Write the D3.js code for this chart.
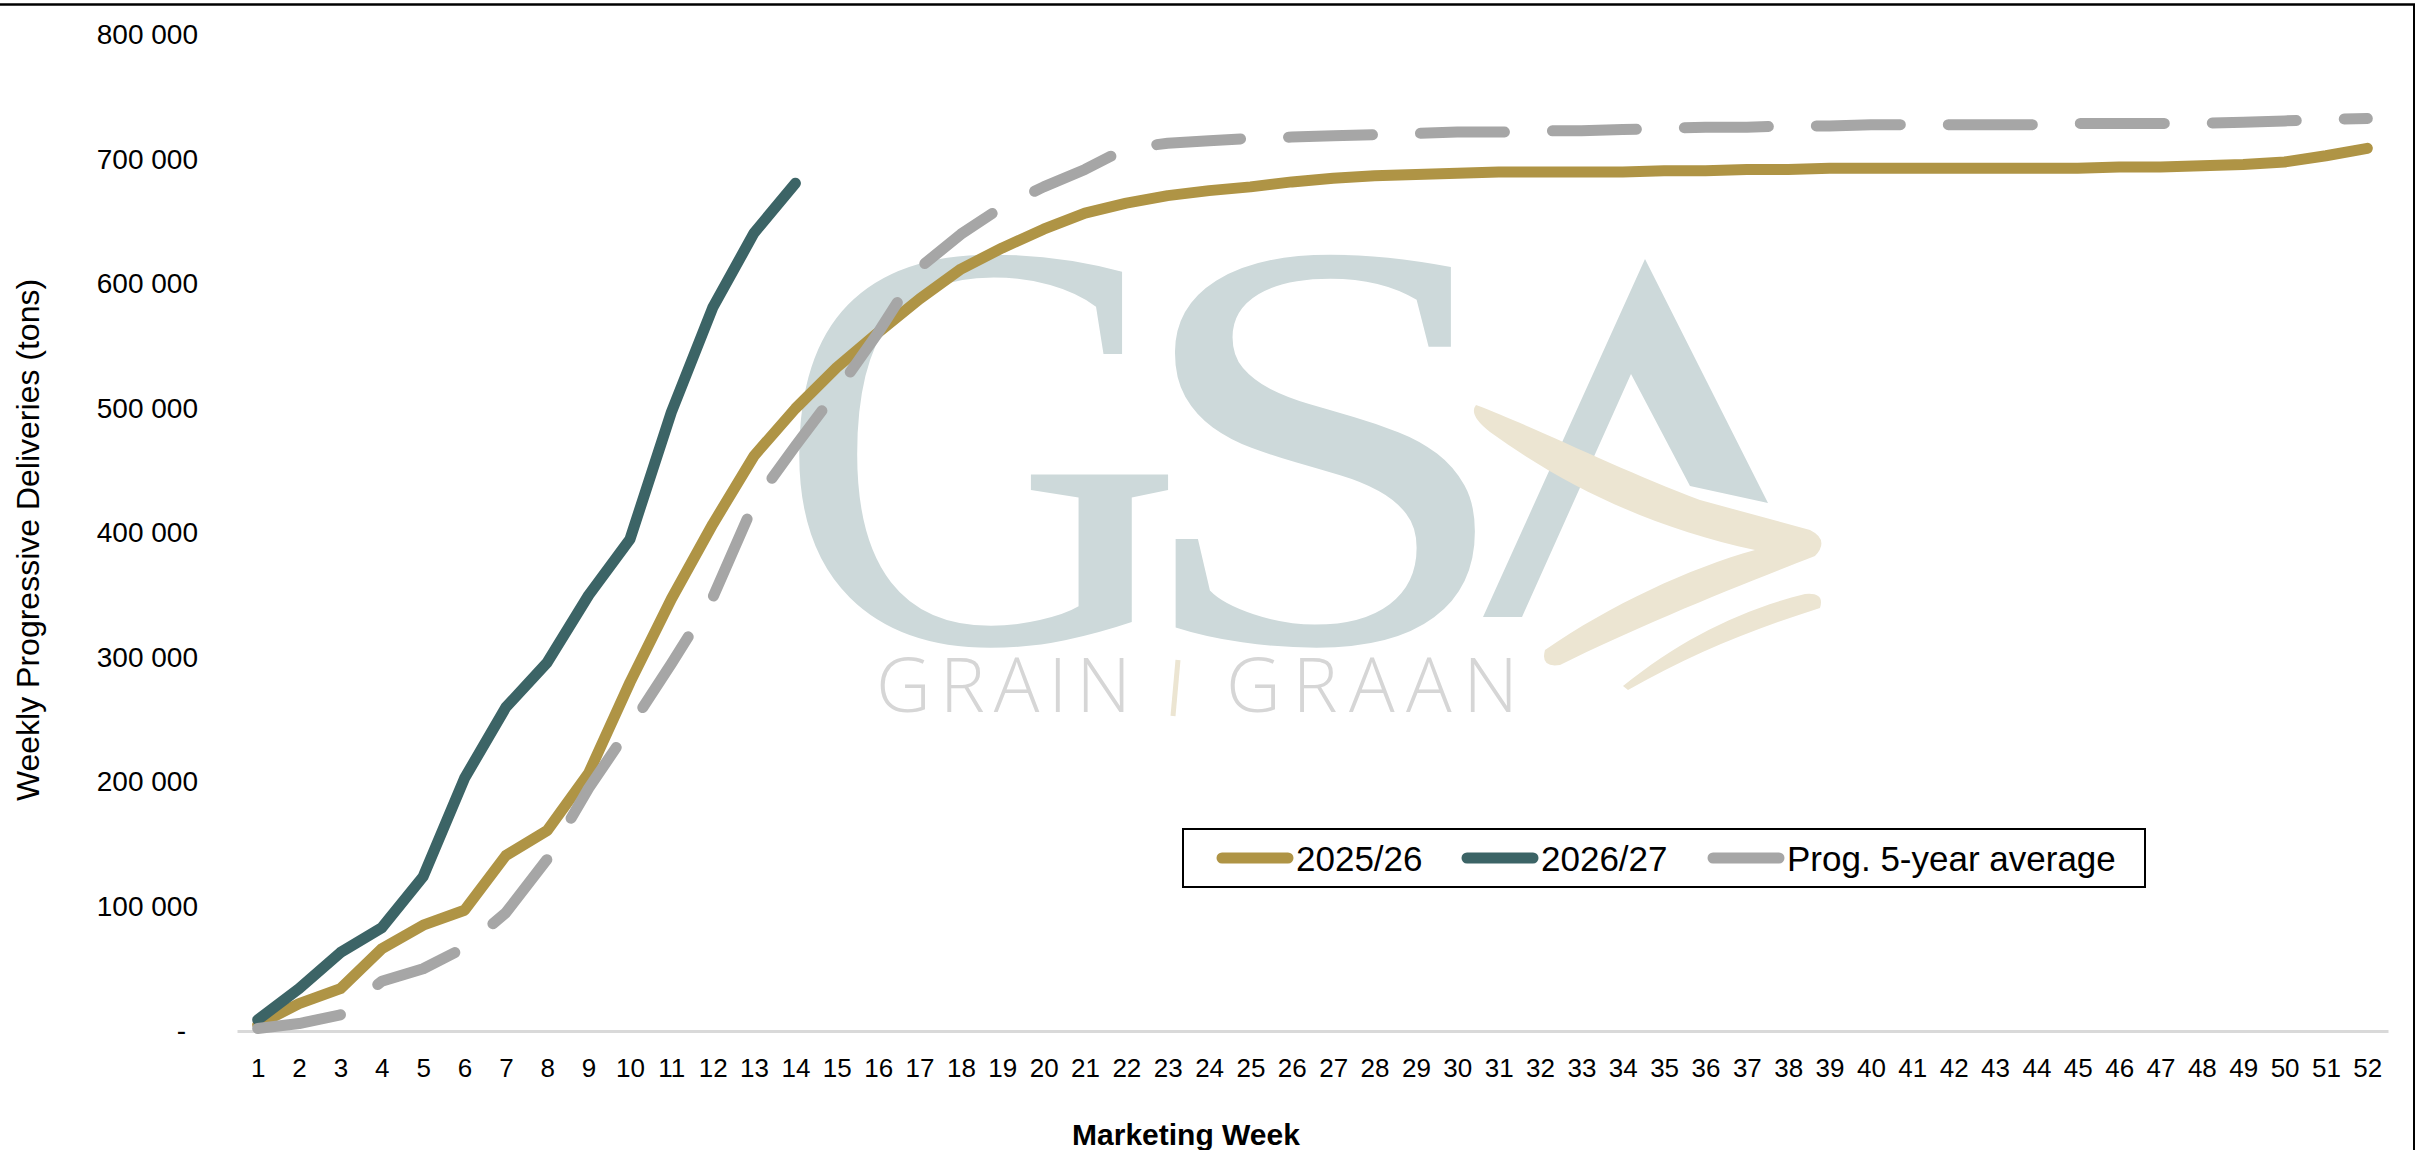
<!DOCTYPE html>
<html>
<head>
<meta charset="utf-8">
<script src="https://cdn.jsdelivr.net/npm/d3@7"></script>
<style>
  html, body { margin: 0; padding: 0; background: #ffffff; }
  svg { display: block; }
</style>
</head>
<body>
<svg id="chart" width="2418" height="1150"></svg>
<script>
// ---------------- DATA ----------------
const weeks = [1,2,3,4,5,6,7,8,9,10,11,12,13,14,15,16,17,18,19,20,21,22,23,24,25,26,
               27,28,29,30,31,32,33,34,35,36,37,38,39,40,41,42,43,44,45,46,47,48,49,50,51,52];

const series2025 = [5000,22000,34000,66000,85000,97000,141000,161000,207000,280000,347000,407000,
                    462000,500000,533000,561000,588000,612000,629000,644000,657000,665000,671000,675000,
                    678000,682000,685000,687000,688000,689000,690000,690000,690000,690000,691000,691000,
                    692000,692000,693000,693000,693000,693000,693000,693000,693000,694000,694000,695000,
                    696000,698000,703000,709000];

const series2026 = [9000,34000,63000,83000,124000,203000,260000,296000,350000,395000,497000,581000,
                    641000,681000];

const avg5yr = [2000,6000,13000,40000,50000,67000,95000,138000,195000,244000,295000,348000,
                424000,470000,514000,561000,613000,640000,662000,678000,692000,709000,713000,715000,
                717000,718000,719000,720000,721000,722000,722000,723000,723000,724000,725000,726000,
                726000,727000,727000,728000,728000,728000,728000,728000,729000,729000,729000,729000,
                730000,731000,732000,733000];

const yTicks = [0,100000,200000,300000,400000,500000,600000,700000,800000];
const seriesNames = ["2025/26", "2026/27", "Prog. 5-year average"];
const yTitle = "Weekly Progressive Deliveries (tons)";
const xTitle = "Marketing Week";

// ---------------- SETUP ----------------
const svg = d3.select("#chart");
const FONT = "'Liberation Sans', Arial, sans-serif";
const colors = { "2025/26": "#af9445", "2026/27": "#3c6466", "Prog. 5-year average": "#a6a6a6" };

const x = d3.scalePoint().domain(weeks).range([237, 2388]).padding(0.5);
const y = d3.scaleLinear().domain([0, 800000]).range([1031, 35]);

// frame (top and right borders of the original chart area)
svg.append("line").attr("x1", 0).attr("x2", 2415).attr("y1", 4.5).attr("y2", 4.5)
   .attr("stroke", "#000").attr("stroke-width", 2.5);
svg.append("line").attr("x1", 2414).attr("x2", 2414).attr("y1", 4).attr("y2", 1150)
   .attr("stroke", "#000").attr("stroke-width", 2);

// ---------------- WATERMARK ----------------
const wm = svg.append("g").attr("class", "watermark");
const serif = "'Liberation Serif', 'Times New Roman', serif";
wm.append("text")
  .attr("transform", "translate(776,642) scale(0.97,1)")
  .attr("font-family", serif).attr("font-size", 585)
  .attr("fill", "#cdd9da")
  .text("G");
wm.append("text")
  .attr("transform", "translate(1128,642) scale(1.2,1)")
  .attr("font-family", serif).attr("font-size", 585)
  .attr("fill", "#cdd9da")
  .text("S");
wm.append("path")
  .attr("d", "M1645,259 L1768,503 L1690,486 L1631,374 L1522,617 L1483,617 Z")
  .attr("fill", "#cdd9da");
wm.append("path")
  .attr("d", "M1476,405 C1530,425 1620,470 1700,500 L1810,530 Q1830,540 1815,556 C1740,585 1640,625 1560,665 Q1540,668 1545,650 C1610,605 1690,568 1755,550 C1660,530 1570,490 1490,432 Q1468,415 1476,405 Z")
  .attr("fill", "#ece5d2");
wm.append("path")
  .attr("d", "M1623,686 C1680,640 1740,610 1805,594 Q1825,592 1820,608 C1750,630 1690,655 1628,690 Z")
  .attr("fill", "#ece5d2");
wm.append("text")
  .attr("x", 876).attr("y", 712)
  .attr("font-family", "'Open Sans', 'Liberation Sans', sans-serif")
  .attr("font-weight", 300)
  .attr("font-size", 76)
  .attr("textLength", 255).attr("lengthAdjust", "spacing")
  .attr("fill", "#d6d6d6")
  .text("GRAIN");
wm.append("line").attr("x1", 1178).attr("y1", 660).attr("x2", 1173).attr("y2", 716)
  .attr("stroke", "#ece5d2").attr("stroke-width", 5);
wm.append("text")
  .attr("x", 1226).attr("y", 712)
  .attr("font-family", "'Open Sans', 'Liberation Sans', sans-serif")
  .attr("font-weight", 300)
  .attr("font-size", 76)
  .attr("textLength", 292).attr("lengthAdjust", "spacing")
  .attr("fill", "#d6d6d6")
  .text("GRAAN");

// ---------------- AXES ----------------
const fmt = v => v === 0 ? "-" : d3.format(",")(v).replace(/,/g, " ");

const yAxis = svg.append("g")
  .attr("transform", "translate(198,0)")
  .call(d3.axisLeft(y).tickValues(yTicks).tickSize(0).tickPadding(0).tickFormat(fmt));
yAxis.select(".domain").remove();
yAxis.selectAll("text")
  .attr("font-family", FONT).attr("font-size", 28).attr("fill", "#000")
  .attr("dx", d => d === 0 ? -12 : 0);

const xAxis = svg.append("g")
  .attr("transform", "translate(0,1031)")
  .call(d3.axisBottom(x).tickSize(0).tickSizeOuter(0).tickPadding(28));
xAxis.select(".domain").attr("stroke", "#d9d9d9").attr("stroke-width", 3);
xAxis.selectAll("text")
  .attr("font-family", FONT).attr("font-size", 26).attr("fill", "#000");

svg.append("text")
  .attr("transform", "translate(39,540) rotate(-90)")
  .attr("text-anchor", "middle")
  .attr("font-family", FONT).attr("font-size", 32).attr("fill", "#000")
  .text(yTitle);

svg.append("text")
  .attr("x", 1186).attr("y", 1145)
  .attr("text-anchor", "middle")
  .attr("font-family", FONT).attr("font-weight", "bold").attr("font-size", 30).attr("fill", "#000")
  .text(xTitle);

// ---------------- LINES ----------------
const line = d3.line().x(d => x(d.w)).y(d => y(d.v));
const seriesData = [
  { name: seriesNames[0], values: series2025.map((v, i) => ({ w: weeks[i], v })), dash: null },
  { name: seriesNames[1], values: series2026.map((v, i) => ({ w: weeks[i], v })), dash: null },
  { name: seriesNames[2], values: avg5yr.map((v, i) => ({ w: weeks[i], v })), dash: "84 48" }
];

svg.append("g").selectAll("path")
  .data(seriesData)
  .join("path")
  .attr("d", d => line(d.values))
  .attr("fill", "none")
  .attr("stroke", d => colors[d.name])
  .attr("stroke-width", 11)
  .attr("stroke-linecap", "round")
  .attr("stroke-linejoin", "round")
  .attr("stroke-dasharray", d => d.dash);

// ---------------- LEGEND ----------------
const legend = svg.append("g");
legend.append("rect")
  .attr("x", 1183).attr("y", 829).attr("width", 962).attr("height", 58)
  .attr("fill", "#fff").attr("stroke", "#000").attr("stroke-width", 2);

const legendX = [1217, 1462, 1708];
const items = legend.selectAll("g.item")
  .data(seriesNames)
  .join("g")
  .attr("class", "item")
  .attr("transform", (d, i) => `translate(${legendX[i]},858)`);
items.append("line")
  .attr("x1", 5).attr("x2", 71).attr("y1", 0).attr("y2", 0)
  .attr("stroke", d => colors[d]).attr("stroke-width", 11).attr("stroke-linecap", "round");
items.append("text")
  .attr("x", 79).attr("y", 0).attr("dy", "0.36em")
  .attr("font-family", FONT).attr("font-size", 35).attr("fill", "#000")
  .text(d => d);
</script>
</body>
</html>
